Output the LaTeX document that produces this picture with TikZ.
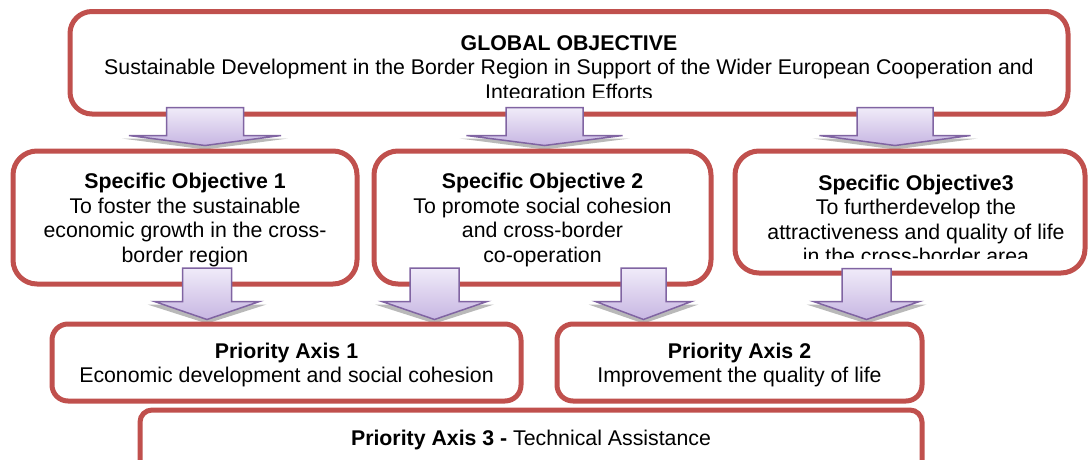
\documentclass[tikz,border=0pt]{standalone}
\usepackage{fontspec}
\setmainfont{Liberation Sans}
\usetikzlibrary{calc}
\definecolor{boxred}{HTML}{C0504D}
\definecolor{arrowline}{HTML}{8064A2}
\definecolor{arrowtop}{HTML}{F0EBF9}
\definecolor{arrowbot}{HTML}{C7B6E2}
\pgfdeclarelayer{lzero}
\pgfdeclarelayer{lone}
\pgfdeclarelayer{ltwo}
\pgfdeclarelayer{lthree}
\pgfsetlayers{lzero,lone,ltwo,lthree,main}
\tikzset{
  basebox/.style={draw=boxred, line width=5pt, fill=white, inner sep=0pt},
  gbox/.style={basebox, rounded corners=22pt},
  sobox/.style={basebox, rounded corners=24pt},
  pabox/.style={basebox, rounded corners=16pt},
  pathreebox/.style={basebox, rounded corners=12pt},
  txt/.style={inner sep=0pt, align=center, font=\fontsize{21.3}{24.4}\selectfont, yshift=-2.5pt},
  arrowsty/.style={draw=arrowline, line width=1.5pt, line join=miter, top color=arrowtop, bottom color=arrowbot},
  arrowshadow/.style={fill=black!55, opacity=0.5}
}
% #1 centre x, #2 from node, #3 to node, #4 shaft half width, #5 head half width,
% #6 head height, #7 overlap above from.south, #8 tip above to.north
\newcommand\blockarrow[8]{%
  \fill[arrowshadow] let \p1=(#2.south), \p2=(#3.north) in
    (#1pt-#5pt-7pt,\y2+#8pt+#6pt-3pt) -- (#1pt+#5pt+7pt,\y2+#8pt+#6pt-3pt) -- (#1pt,\y2+#8pt-4pt) -- cycle;
  \draw[arrowsty] let \p1=(#2.south), \p2=(#3.north) in
    (#1pt-#4pt,\y1+#7pt) -- (#1pt+#4pt,\y1+#7pt) -- (#1pt+#4pt,\y2+#8pt+#6pt)
    -- (#1pt+#5pt,\y2+#8pt+#6pt) -- (#1pt,\y2+#8pt) -- (#1pt-#5pt,\y2+#8pt+#6pt)
    -- (#1pt-#4pt,\y2+#8pt+#6pt) -- cycle;
}
\begin{document}
\begin{tikzpicture}[x=1pt,y=-1pt]
\useasboundingbox (0,0) rectangle (1088,459);

% global objective
\begin{pgfonlayer}{lzero}
  \node[gbox, minimum width=998pt, minimum height=102.5pt] (g) at (569,62.75) {};
  \begin{scope}
    \clip (72,14) rectangle (1066,97.5);
    \node[txt] (gt) at (569,67) {\textbf{GLOBAL OBJECTIVE}\\Sustainable Development in the Border Region in Support of the Wider European Cooperation and\\Integration Efforts};
  \end{scope}
\end{pgfonlayer}

% specific objectives
\begin{pgfonlayer}{ltwo}
  \node[sobox, minimum width=344pt, minimum height=133pt] (so1) at (185,217.5) {};
  \node[txt] (so1t) at (so1) {\textbf{Specific Objective 1}\\To foster the sustainable\\economic growth in the cross-\\border region};
  \node[sobox, minimum width=337pt, minimum height=133pt] (so2) at (542.5,217.5) {};
  \node[txt] (so2t) at (so2) {\textbf{Specific Objective 2}\\To promote social cohesion\\and cross-border\\co-operation};
  \node[sobox, minimum width=350pt, minimum height=122pt] (so3) at (910,212) {};
  \begin{scope}
    \clip (738,154) rectangle (1083,258.5);
    \node[txt] (so3t) at (916,217) {\textbf{Specific Objective3}\\To furtherdevelop the\\attractiveness and quality of life\\in the cross-border area};
  \end{scope}
\end{pgfonlayer}

% priority axes
\node[pabox, minimum width=469pt, minimum height=77pt] (pa1) at (286.5,362.5) {};
\node[txt] (pa1t) at (pa1) {\textbf{Priority Axis 1}\\Economic development and social cohesion};
\node[pabox, minimum width=365pt, minimum height=77pt] (pa2) at (739.5,362.5) {};
\node[txt] (pa2t) at (pa2) {\textbf{Priority Axis 2}\\Improvement the quality of life};
\node[pathreebox, minimum width=782pt, minimum height=70pt] (pa3) at (531,445) {};
\node[txt] (pa3t) at (531,437) {\textbf{Priority Axis 3 -} Technical Assistance};

% arrows global -> specific objectives
\begin{pgfonlayer}{lone}
  \blockarrow{205}{g}{so1}{38.5}{76}{10}{9}{3}
  \blockarrow{544.5}{g}{so2}{38.5}{78}{10}{9}{3}
  \blockarrow{895}{g}{so3}{38}{75.5}{10}{9}{3}
\end{pgfonlayer}

% arrows specific objectives -> priority axes
\begin{pgfonlayer}{lthree}
  \blockarrow{207}{so1}{pa1}{24.5}{52.5}{18}{18.5}{2}
  \blockarrow{434.5}{so2}{pa1}{24.5}{52.5}{18}{18.5}{2}
  \blockarrow{643.5}{so2}{pa2}{22.5}{48}{18}{18.5}{2}
  \blockarrow{866.5}{so3}{pa2}{24.5}{53}{18}{7}{2}
\end{pgfonlayer}
\end{tikzpicture}
\end{document}
